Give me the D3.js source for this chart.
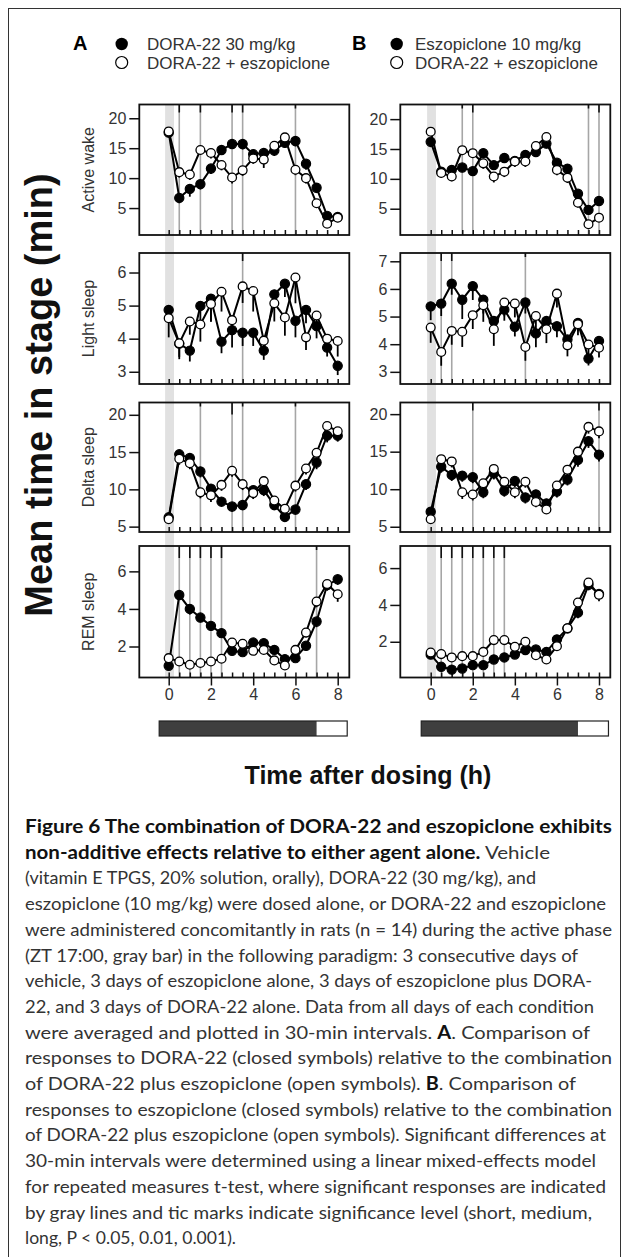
<!DOCTYPE html>
<html><head><meta charset="utf-8">
<script src="https://cdn.jsdelivr.net/npm/d3@7"></script>
<style>body{margin:0;background:#fff}svg{display:block}</style>
</head><body>
<svg id="c" width="629" height="1257"></svg>
<script>
// ---------------- DATA ----------------
const hours = [0,0.5,1,1.5,2,2.5,3,3.5,4,4.5,5,5.5,6,6.5,7,7.5,8];
const stages = ["Active wake","Light sleep","Delta sleep","REM sleep"];
const xTickLabels = [0,2,4,6,8];

// Panel A: DORA-22 30 mg/kg (closed) vs DORA-22 + eszopiclone (open)
const wakeA_closed = [17.6,6.7,8.2,9.0,11.6,14.7,15.7,15.7,14.0,14.2,14.6,15.9,16.2,12.4,8.4,3.7,3.5];
const wakeA_open   = [17.8,11.0,10.6,14.7,14.2,12.2,10.1,11.3,13.3,13.1,15.4,16.8,11.4,10.0,5.8,2.4,3.4];
const lightA_closed = [4.87,3.85,3.64,4.99,5.21,3.91,4.26,4.18,4.18,3.64,5.34,5.66,4.54,4.87,4.38,3.73,3.18];
const lightA_open   = [4.62,3.86,4.52,4.43,5.05,5.42,4.56,5.58,5.44,3.94,5.07,4.64,5.85,4.04,4.70,4.00,3.93];
const deltaA_closed = [6.25,14.7,14.2,12.4,10.1,8.36,7.7,7.9,9.9,9.9,7.9,6.3,7.3,10.7,13.6,17.2,17.2];
const deltaA_open   = [6.0,14.1,13.5,9.6,9.2,10.6,12.5,10.7,9.5,11.1,8.5,7.4,10.5,12.8,14.9,18.5,17.8];
const remA_closed = [0.97,4.74,4.0,3.54,3.10,2.71,1.77,1.70,2.21,2.18,1.82,1.33,1.38,2.04,3.33,5.27,5.58];
const remA_open   = [1.38,1.20,1.03,1.12,1.20,1.35,2.21,2.14,1.77,1.82,1.26,0.99,1.82,2.74,4.39,5.33,4.78];

// Panel B: eszopiclone 10 mg/kg (closed) vs DORA-22 + eszopiclone (open)
const wakeB_closed = [16.2,11.2,11.5,11.9,11.3,14.3,12.3,13.5,13.0,14.0,14.5,15.9,12.7,11.7,7.5,4.8,6.3];
const wakeB_open   = [17.9,11.0,10.4,14.8,14.3,12.6,10.4,11.2,12.9,12.9,15.5,17.0,11.5,10.2,6.0,2.4,3.5];
const lightB_closed = [5.37,5.47,6.19,5.61,6.10,5.61,4.84,5.25,4.63,5.51,4.39,4.84,4.65,4.17,4.77,3.48,4.12];
const lightB_open   = [4.60,3.72,4.48,4.45,5.05,5.41,4.54,5.51,5.47,3.90,5.02,4.54,5.83,3.96,4.72,3.99,3.87];
const deltaB_closed = [7.0,13.0,11.9,11.8,11.6,9.6,12.1,9.8,11.1,8.9,9.3,8.1,9.7,11.3,13.9,16.4,14.6];
const deltaB_open   = [6.0,14.0,13.7,9.6,9.3,10.8,12.7,11.0,9.6,11.0,8.3,7.3,10.5,12.6,15.0,18.3,17.7];
const remB_closed = [1.30,0.64,0.49,0.55,0.73,0.73,1.04,1.15,1.31,1.55,1.58,1.45,2.13,2.73,3.58,5.09,4.60];
const remB_open   = [1.42,1.33,1.15,1.22,1.22,1.45,2.09,2.09,1.73,2.00,1.27,1.04,1.76,2.73,4.13,5.22,4.55];

// SEM (drawn downward)
const wakeA_closedErr = [0.8,0.9,1.3,0.9,0.9,0.8,0.8,0.9,0.9,0.8,0.9,0.8,0.9,1.0,0.9,0.6,0.5];
const wakeA_openErr   = [0.7,0.9,0.9,0.8,0.9,0.9,1.0,0.9,0.9,1.4,0.9,0.8,0.9,0.9,0.8,0.5,0.5];
const lightA_closedErr = [0.4,0.4,0.33,0.5,0.7,0.35,0.53,0.4,0.4,0.28,0.4,0.4,0.5,0.4,0.37,0.27,0.28];
const lightA_openErr   = [0.58,0.48,0.4,0.52,0.53,0.6,0.4,0.5,0.62,0.4,0.55,0.55,0.78,0.38,0.4,0.35,0.47];
const deltaA_closedErr = [0.6,0.8,0.8,0.8,0.8,0.7,0.7,0.7,0.8,0.8,0.7,0.6,0.7,0.8,0.9,0.9,0.8];
const deltaA_openErr   = [0.6,0.8,0.8,0.8,0.9,0.8,0.8,0.8,0.8,0.8,0.7,0.6,0.8,0.8,0.9,0.9,0.9];
const remA_closedErr = [0.15,0.25,0.3,0.25,0.25,0.25,0.2,0.2,0.2,0.2,0.2,0.2,0.2,0.25,0.3,0.3,0.3];
const remA_openErr   = [0.15,0.15,0.15,0.15,0.15,0.15,0.2,0.2,0.2,0.2,0.2,0.15,0.2,0.25,0.3,0.3,0.4];
const wakeB_closedErr = [0.9,0.8,0.8,0.8,0.8,0.8,0.8,0.8,0.8,0.8,0.8,0.8,0.9,0.9,0.9,0.7,0.7];
const wakeB_openErr   = [0.7,0.8,0.8,0.8,0.8,0.9,1.0,0.9,0.9,0.9,0.9,0.8,0.9,0.9,0.8,0.5,0.5];
const lightB_closedErr = [0.5,0.45,0.4,0.7,0.5,0.5,0.4,0.4,0.35,0.4,0.5,0.45,0.4,0.35,0.3,0.25,0.3];
const lightB_openErr   = [0.55,0.5,0.5,0.55,0.5,0.6,0.6,0.5,0.5,0.5,0.55,0.5,0.5,0.4,0.4,0.35,0.35];
const deltaB_closedErr = [0.7,0.8,0.8,0.8,0.8,0.8,0.8,0.8,0.8,0.8,0.8,0.7,0.8,0.8,0.9,0.9,0.9];
const deltaB_openErr   = [0.6,0.8,0.8,0.9,0.8,0.8,0.8,0.8,0.8,0.8,0.7,0.6,0.8,0.8,0.9,0.9,0.9];
const remB_closedErr = [0.15,0.15,0.15,0.15,0.15,0.15,0.15,0.15,0.15,0.2,0.2,0.2,0.2,0.25,0.3,0.3,0.3];
const remB_openErr   = [0.15,0.15,0.15,0.15,0.15,0.15,0.2,0.2,0.2,0.2,0.2,0.15,0.2,0.25,0.3,0.3,0.35];

// Significance markers: [hour, level 1=P<0.05 short, 2=P<0.01 medium, 3=P<0.001 long]
const sigWakeA  = [[0.5,2],[1.5,2],[3,2],[3.5,2],[6,1]];
const sigLightA = [[3.5,2]];
const sigDeltaA = [[1.5,1],[3,3],[3.5,1],[6,1]];
const sigRemA   = [[0.5,3],[1,3],[1.5,3],[2,3],[2.5,3],[7,1]];
const sigWakeB  = [[1.5,1],[2,2],[7.5,1],[8,2]];
const sigLightB = [[0.5,2],[1,2],[4.5,1]];
const sigDeltaB = [[2,2],[8,2]];
const sigRemB   = [[0.5,3],[1,3],[1.5,3],[2,3],[2.5,3],[3,3],[3.5,3]];

// Y axis ticks per panel
const yTicksWake = [5,10,15,20];
const yTicksLightA = [3,4,5,6];
const yTicksLightB = [3,4,5,6,7];
const yTicksDelta = [5,10,15,20];
const yTicksRem = [2,4,6];

// Dosing band (gray) and light/dark bar (hours)
const doseBand = [-0.17, 0.25];
const darkPhase = [-0.45, 7];
const lightPhase = [7, 8.45];

const legendA = ["DORA-22 30 mg/kg","DORA-22 + eszopiclone"];
const legendB = ["Eszopiclone 10 mg/kg","DORA-22 + eszopiclone"];

// ---------------- LAYOUT ----------------
const svg = d3.select("#c");
const FONT = "'Liberation Sans', Arial, Helvetica, sans-serif";
const TXT = "#333";
svg.append("rect").attr("x",8.5).attr("y",8.5).attr("width",612).attr("height",1260)
  .attr("fill","none").attr("stroke","#333").attr("stroke-width",1);

const cols = [
  {left:139.3, right:349.3, x0:168.7, x8:337.7},
  {left:400.3, right:610.3, x0:430.7, x8:599.0}
];
const rows = [
  {top:104.5, bottom:235},
  {top:253, bottom:384},
  {top:402.5, bottom:532},
  {top:546, bottom:677.5}
];

const panels = [
  {c:0,r:0,closed:wakeA_closed,open:wakeA_open,ce:wakeA_closedErr,oe:wakeA_openErr,dom:[0.5,22.3],ticks:yTicksWake,sig:sigWakeA},
  {c:0,r:1,closed:lightA_closed,open:lightA_open,ce:lightA_closedErr,oe:lightA_openErr,dom:[2.63,6.59],ticks:yTicksLightA,sig:sigLightA},
  {c:0,r:2,closed:deltaA_closed,open:deltaA_open,ce:deltaA_closedErr,oe:deltaA_openErr,dom:[4.28,21.65],ticks:yTicksDelta,sig:sigDeltaA},
  {c:0,r:3,closed:remA_closed,open:remA_open,ce:remA_closedErr,oe:remA_openErr,dom:[0.35,7.35],ticks:yTicksRem,sig:sigRemA},
  {c:1,r:0,closed:wakeB_closed,open:wakeB_open,ce:wakeB_closedErr,oe:wakeB_openErr,dom:[0.6,22.45],ticks:yTicksWake,sig:sigWakeB},
  {c:1,r:1,closed:lightB_closed,open:lightB_open,ce:lightB_closedErr,oe:lightB_openErr,dom:[2.56,7.3],ticks:yTicksLightB,sig:sigLightB},
  {c:1,r:2,closed:deltaB_closed,open:deltaB_open,ce:deltaB_closedErr,oe:deltaB_openErr,dom:[4.3,21.55],ticks:yTicksDelta,sig:sigDeltaB},
  {c:1,r:3,closed:remB_closed,open:remB_open,ce:remB_closedErr,oe:remB_openErr,dom:[0.06,7.2],ticks:yTicksRem,sig:sigRemB}
];

const xScales = cols.map(c => d3.scaleLinear().domain([0,8]).range([c.x0,c.x8]));

cols.forEach((c,i)=>{
  const x = xScales[i];
  svg.append("rect").attr("x",x(doseBand[0])).attr("y",rows[0].top)
    .attr("width",x(doseBand[1])-x(doseBand[0])).attr("height",rows[3].bottom-rows[0].top)
    .attr("fill","#e1e1e1");
});

const tickLen = {1:4,2:8,3:12};

panels.forEach(p=>{
  const c = cols[p.c], r = rows[p.r], x = xScales[p.c];
  const y = d3.scaleLinear().domain(p.dom).range([r.bottom,r.top]);
  const g = svg.append("g");
  p.sig.forEach(s=>{
    g.append("line").attr("x1",x(s[0])).attr("x2",x(s[0])).attr("y1",r.top).attr("y2",r.bottom)
      .attr("stroke","#a6a6a6").attr("stroke-width",1.6);
    g.append("line").attr("x1",x(s[0])).attr("x2",x(s[0])).attr("y1",r.top).attr("y2",r.top+tickLen[s[1]])
      .attr("stroke","#111").attr("stroke-width",1.6);
  });
  g.append("rect").attr("x",c.left).attr("y",r.top).attr("width",c.right-c.left).attr("height",r.bottom-r.top)
    .attr("fill","none").attr("stroke","#111").attr("stroke-width",1.8);
  const xAxis = d3.axisBottom(x).tickValues(hours).tickSize(-5).tickFormat("");
  const ax = g.append("g").attr("transform",`translate(0,${r.bottom})`).call(xAxis);
  ax.select(".domain").remove();
  ax.selectAll("line").attr("stroke","#111").attr("stroke-width",1.5);
  if(p.r===3){
    const xAxis2 = d3.axisBottom(x).tickValues(xTickLabels).tickSize(8).tickPadding(3).tickFormat(d3.format("d"));
    const ax2 = g.append("g").attr("transform",`translate(0,${r.bottom})`).call(xAxis2);
    ax2.select(".domain").remove();
    ax2.selectAll("line").attr("stroke","#111").attr("stroke-width",1.5);
    ax2.selectAll("text").attr("font-family",FONT).attr("font-size",16).attr("fill",TXT);
  }
  const yAxis = d3.axisLeft(y).tickValues(p.ticks).tickSize(10).tickPadding(3).tickFormat(d3.format("d"));
  const ay = g.append("g").attr("transform",`translate(${c.left},0)`).call(yAxis);
  ay.select(".domain").remove();
  ay.selectAll("line").attr("stroke","#111").attr("stroke-width",1.5);
  ay.selectAll("text").attr("font-family",FONT).attr("font-size",16).attr("fill",TXT);
  if(p.c===0){
    g.append("text").attr("transform",`translate(${c.left-51},${(r.top+r.bottom)/2}) rotate(-90)`)
      .attr("text-anchor","middle").attr("dy","0.35em").attr("font-family",FONT).attr("font-size",16).attr("fill",TXT)
      .text(stages[p.r]);
  }
  const drawSeries = (vals, errs) => {
    const pts = hours.map((h,i)=>({h, v:vals[i], e:errs[i]}));
    g.append("g").selectAll("line").data(pts).join("line")
      .attr("x1",d=>x(d.h)).attr("x2",d=>x(d.h)).attr("y1",d=>y(d.v)).attr("y2",d=>y(d.v-d.e))
      .attr("stroke","#000").attr("stroke-width",1.8);
    g.append("path").datum(pts).attr("fill","none").attr("stroke","#000").attr("stroke-width",2)
      .attr("d",d3.line().x(d=>x(d.h)).y(d=>y(d.v)));
    return pts;
  };
  const cp = drawSeries(p.closed,p.ce);
  const op = drawSeries(p.open,p.oe);
  g.append("g").selectAll("circle").data(cp).join("circle")
    .attr("cx",d=>x(d.h)).attr("cy",d=>y(d.v)).attr("r",4.6).attr("fill","#000").attr("stroke","#000").attr("stroke-width",1.2);
  g.append("g").selectAll("circle").data(op).join("circle")
    .attr("cx",d=>x(d.h)).attr("cy",d=>y(d.v)).attr("r",4.4).attr("fill","#fff").attr("stroke","#000").attr("stroke-width",1.3);
});

cols.forEach((c,i)=>{
  const x = xScales[i];
  svg.append("rect").attr("x",x(darkPhase[0])).attr("y",721).attr("width",x(darkPhase[1])-x(darkPhase[0])).attr("height",15)
    .attr("fill","#3f3f3f");
  svg.append("rect").attr("x",x(darkPhase[0])).attr("y",721).attr("width",x(lightPhase[1])-x(darkPhase[0])).attr("height",15)
    .attr("fill","none").attr("stroke","#222").attr("stroke-width",1.2);
});

const legends = [{lab:"A",items:legendA,lx:73,cx:121.7,tx:147},{lab:"B",items:legendB,lx:352,cx:396.7,tx:415}];
legends.forEach(L=>{
  svg.append("text").attr("x",L.lx).attr("y",50).attr("font-family",FONT).attr("font-weight","bold").attr("font-size",20).attr("fill","#000").text(L.lab);
  svg.append("circle").attr("cx",L.cx).attr("cy",44).attr("r",6.2).attr("fill","#000");
  svg.append("circle").attr("cx",L.cx).attr("cy",62.5).attr("r",6).attr("fill","#fff").attr("stroke","#000").attr("stroke-width",1.2);
  svg.append("text").attr("x",L.tx).attr("y",50).attr("font-family",FONT).attr("font-size",17).attr("fill",TXT).text(L.items[0]);
  svg.append("text").attr("x",L.tx).attr("y",68.5).attr("font-family",FONT).attr("font-size",17).attr("fill",TXT).text(L.items[1]);
});

svg.append("text").attr("transform","translate(52,395) rotate(-90)").attr("text-anchor","middle")
  .attr("font-family",FONT).attr("font-weight","bold").attr("font-size",38).attr("fill","#111").text("Mean time in stage (min)");
svg.append("text").attr("x",368).attr("y",784).attr("text-anchor","middle")
  .attr("font-family",FONT).attr("font-weight","bold").attr("font-size",25).attr("fill","#111").text("Time after dosing (h)");

const capLines = [
  [["b","Figure 6 The combination of DORA-22 and eszopiclone exhibits"]],
  [["b","non-additive effects relative to either agent alone."],["r"," Vehicle"]],
  [["r","(vitamin E TPGS, 20% solution, orally), DORA-22 (30 mg/kg), and"]],
  [["r","eszopiclone (10 mg/kg) were dosed alone, or DORA-22 and eszopiclone"]],
  [["r","were administered concomitantly in rats (n = 14) during the active phase"]],
  [["r","(ZT 17:00, gray bar) in the following paradigm: 3 consecutive days of"]],
  [["r","vehicle, 3 days of eszopiclone alone, 3 days of eszopiclone plus DORA-"]],
  [["r","22, and 3 days of DORA-22 alone. Data from all days of each condition"]],
  [["r","were averaged and plotted in 30-min intervals. "],["b","A"],["r",". Comparison of"]],
  [["r","responses to DORA-22 (closed symbols) relative to the combination"]],
  [["r","of DORA-22 plus eszopiclone (open symbols). "],["b","B"],["r",". Comparison of"]],
  [["r","responses to eszopiclone (closed symbols) relative to the combination"]],
  [["r","of DORA-22 plus eszopiclone (open symbols). Significant differences at"]],
  [["r","30-min intervals were determined using a linear mixed-effects model"]],
  [["r","for repeated measures t-test, where significant responses are indicated"]],
  [["r","by gray lines and tic marks indicate significance level (short, medium,"]],
  [["r","long, P < 0.05, 0.01, 0.001)."]]
];
const capEnds = [612,550,536,606,612,578,592,594,590,612,576,612,606,596,606,592,236];
const CAPX = 25;
capLines.forEach((ln,i)=>{
  const t = svg.append("text").attr("x",CAPX).attr("y",833+i*25.7)
    .attr("font-family","Lato, 'Open Sans', sans-serif").attr("font-size",18).attr("fill","#222")
    .attr("textLength",capEnds[i]-CAPX).attr("lengthAdjust","spacingAndGlyphs");
  ln.forEach(seg=>{
    t.append("tspan").attr("font-weight",seg[0]==="b"?"bold":"normal").attr("fill",seg[0]==="b"?"#111":"#333").text(seg[1]);
  });
});
</script>
</body></html>
